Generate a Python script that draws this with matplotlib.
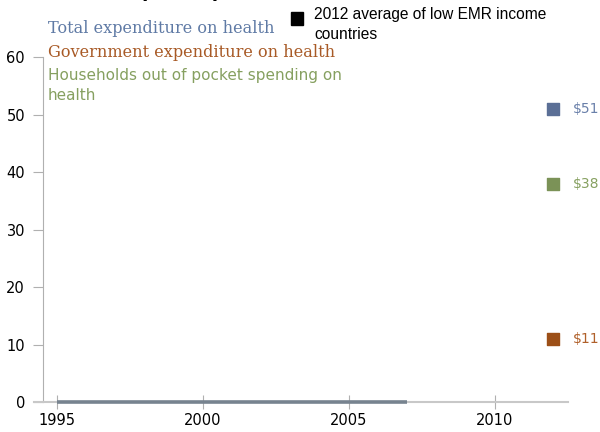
import matplotlib.pyplot as plt

# historical series (flat at zero in the source)
years = [1995, 1996, 1997, 1998, 1999, 2000, 2001, 2002, 2003, 2004, 2005, 2006, 2007]
total = [0, 0, 0, 0, 0, 0, 0, 0, 0, 0, 0, 0, 0]

# 2012 averages of low EMR income countries
avg_year = 2012
avg_names = ["Total", "Households", "Government"]
avg_values = [51, 38, 11]
avg_colors = ["#5b6f96", "#7b9257", "#9c4f17"]
avg_text_colors = ["#6a80aa", "#86a060", "#b0602a"]

fig = plt.figure(figsize=(6, 4.32), dpi=100)
ax = fig.add_axes([0.0717, 0.0694, 0.875, 0.7986])

ax.plot(years, total, color="#77838f", lw=2.6, solid_capstyle="butt", zorder=3, clip_on=False)

for v, c, tc in zip(avg_values, avg_colors, avg_text_colors):
    ax.scatter([avg_year], [v], marker="s", s=85, color=c, zorder=4)
    ax.annotate("$%d" % v, (avg_year, v), xytext=(14, 0), textcoords="offset points",
                va="center", ha="left", color=tc, fontsize=10)

ax.set_xlim(1994.52, 2012.5)
ax.set_ylim(0, 60)
ax.set_xticks([1995, 2000, 2005, 2010])
ax.set_yticks([0, 10, 20, 30, 40, 50, 60])

for s in ["top", "right"]:
    ax.spines[s].set_visible(False)
ax.spines["left"].set_color("#b0b0b0")
ax.spines["bottom"].set_color("#c8c8c8")
ax.spines["bottom"].set_linewidth(1.5)
ax.spines["bottom"].set_bounds(1994.2, 2012.5)
ax.tick_params(axis="y", color="#b0b0b0", length=7, labelsize=10.5, pad=6)
ax.tick_params(axis="x", direction="inout", color="#b0b0b0", length=9.5, labelsize=10.5)

# cut-off title
fig.text(0.53, 1.006, "Per capita expenditure on health (current US$)", ha="center",
         va="baseline", fontsize=13, fontweight="bold")

# legend texts
fig.text(48 / 600, 1 - 28.5 / 432, "Total expenditure on health", color="#5f7aa5",
         family="DejaVu Serif", fontsize=11.6, va="center")
fig.text(48 / 600, 1 - 52.5 / 432, "Government expenditure on health", color="#a85a26",
         family="DejaVu Serif", fontsize=11.6, va="center")
fig.text(48 / 600, 1 - 68 / 432, "Households out of pocket spending on\nhealth",
         color="#86a060", family="DejaVu Sans", fontsize=11, va="top", linespacing=1.4)
fig.patches.append(plt.Rectangle((291 / 600, 1 - 25 / 432), 12 / 600, 13 / 432,
                                 color="black", transform=fig.transFigure, figure=fig))
fig.text(314 / 600, 1 - 7.5 / 432, "2012 average of low EMR income\ncountries",
         color="black", family="Liberation Sans", fontsize=11.2, va="top", linespacing=1.35)

plt.savefig("out.png")
